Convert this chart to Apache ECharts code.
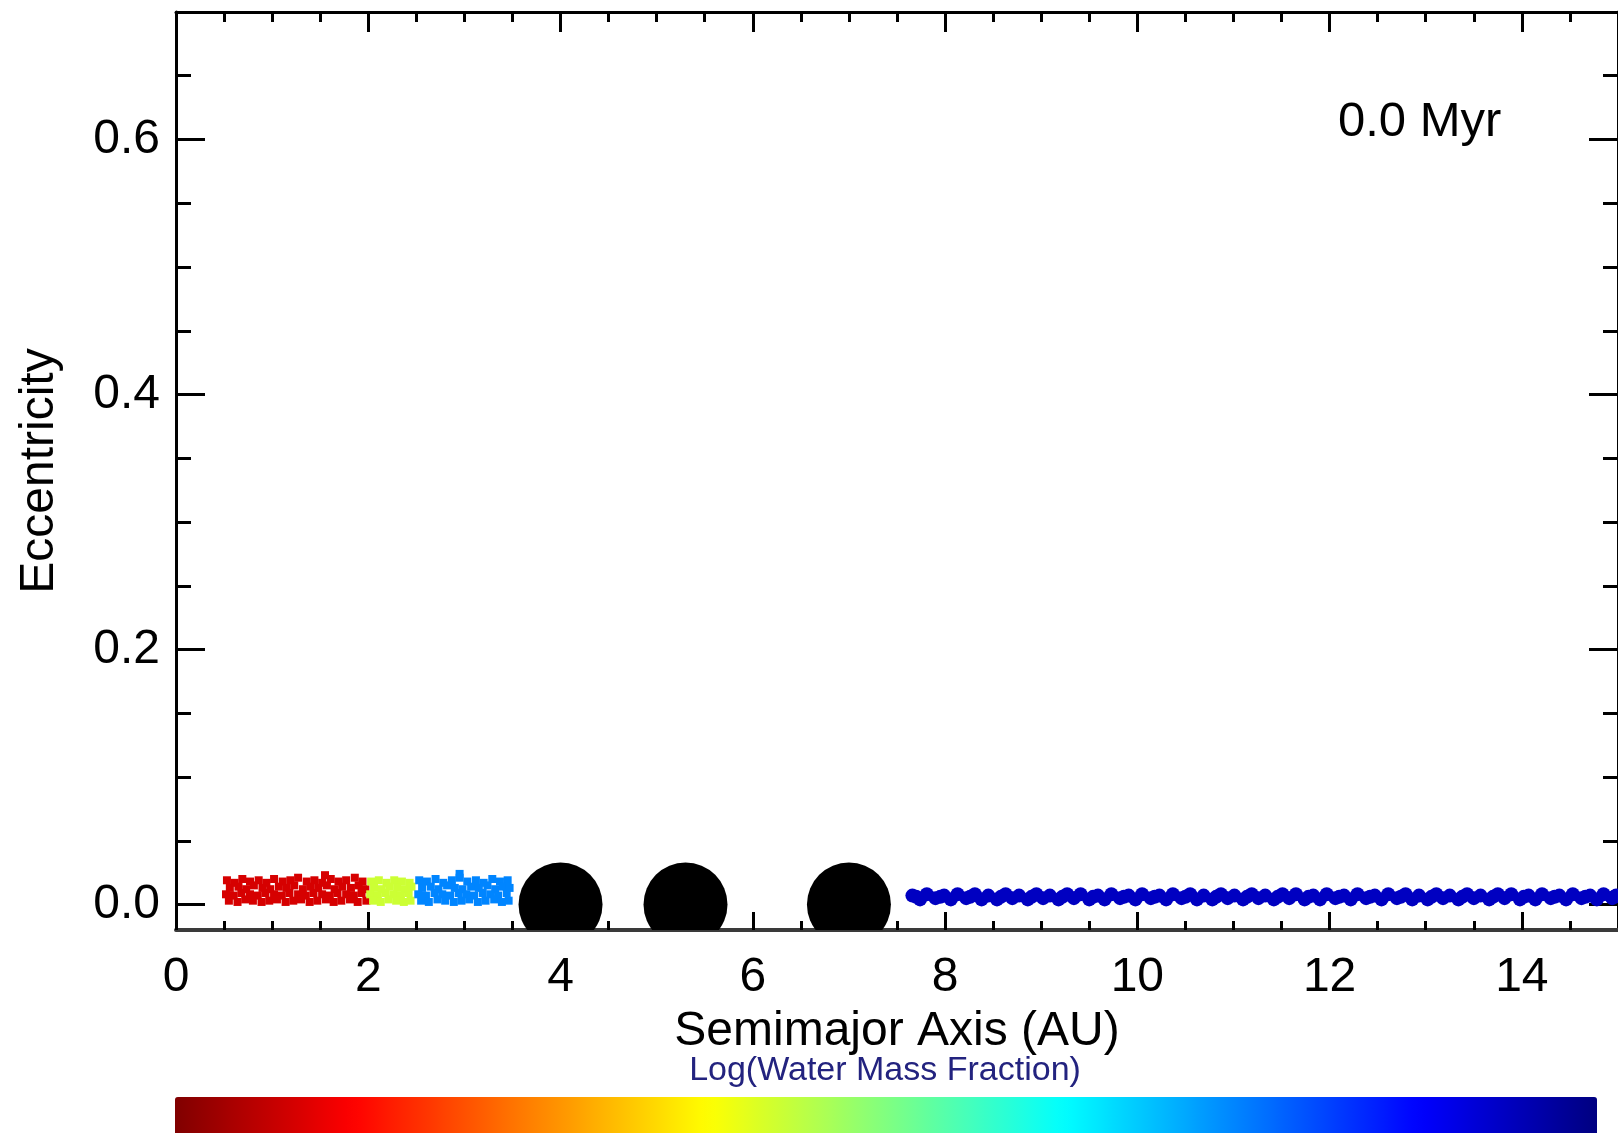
<!DOCTYPE html>
<html>
<head>
<meta charset="utf-8">
<script src="https://cdn.jsdelivr.net/npm/echarts@6/dist/echarts.min.js"></script>
<style>
html,body{margin:0;padding:0;background:#fff;}
#chart{width:1618px;height:1133px;}
</style>
</head>
<body>
<div id="chart"></div>
<script>
// ---- Data (semimajor axis AU, eccentricity) ----
const redZone = [
 [0.53,0.019],[0.61,0.017],[0.69,0.020],[0.77,0.018],[0.86,0.019],[0.94,0.017],[1.02,0.020],[1.11,0.018],[1.19,0.019],[1.27,0.021],[1.36,0.018],[1.44,0.019],[1.52,0.017],[1.61,0.020],[1.69,0.018],[1.77,0.019],[1.86,0.021],[1.94,0.018],
 [0.56,0.013],[0.65,0.014],[0.73,0.012],[0.81,0.015],[0.90,0.013],[0.98,0.012],[1.07,0.014],[1.15,0.013],[1.23,0.015],[1.32,0.012],[1.40,0.014],[1.48,0.013],[1.57,0.015],[1.65,0.012],[1.73,0.014],[1.82,0.013],[1.90,0.015],[1.97,0.012],
 [0.52,0.008],[0.60,0.007],[0.68,0.009],[0.77,0.008],[0.85,0.007],[0.93,0.009],[1.02,0.008],[1.10,0.007],[1.18,0.009],[1.27,0.008],[1.35,0.007],[1.43,0.009],[1.52,0.008],[1.60,0.007],[1.68,0.009],[1.77,0.008],[1.85,0.007],[1.93,0.009],
 [0.55,0.003],[0.64,0.002],[0.72,0.004],[0.80,0.003],[0.89,0.002],[0.97,0.003],[1.05,0.004],[1.14,0.002],[1.22,0.003],[1.30,0.004],[1.39,0.002],[1.47,0.003],[1.56,0.004],[1.64,0.002],[1.72,0.003],[1.81,0.004],[1.89,0.002],[1.98,0.003],
 [1.55,0.023]
];
const yellowZone = [
 [2.03,0.018],[2.11,0.019],[2.19,0.017],[2.27,0.019],[2.35,0.018],[2.43,0.017],
 [2.06,0.013],[2.14,0.012],[2.22,0.014],[2.30,0.013],[2.38,0.012],[2.45,0.014],
 [2.02,0.008],[2.10,0.007],[2.18,0.009],[2.26,0.008],[2.34,0.007],[2.42,0.009],
 [2.05,0.003],[2.13,0.002],[2.21,0.004],[2.29,0.003],[2.37,0.002],[2.44,0.003]
];
const lightBlueZone = [
 [2.53,0.019],[2.61,0.018],[2.70,0.020],[2.78,0.017],[2.87,0.019],[2.95,0.021],[3.03,0.018],[3.12,0.019],[3.20,0.017],[3.29,0.020],[3.37,0.018],[3.45,0.019],
 [2.56,0.013],[2.65,0.014],[2.73,0.012],[2.82,0.015],[2.90,0.013],[2.98,0.012],[3.07,0.014],[3.15,0.013],[3.24,0.015],[3.32,0.012],[3.40,0.014],[3.47,0.013],
 [2.52,0.008],[2.60,0.007],[2.69,0.009],[2.77,0.008],[2.85,0.007],[2.94,0.009],[3.02,0.008],[3.10,0.007],[3.19,0.009],[3.27,0.008],[3.35,0.007],[3.44,0.009],
 [2.55,0.003],[2.63,0.002],[2.72,0.004],[2.80,0.003],[2.89,0.002],[2.97,0.003],[3.05,0.004],[3.14,0.002],[3.22,0.003],[3.31,0.004],[3.39,0.002],[3.46,0.003],
 [2.95,0.024]
];
const outerZone = [
 [7.66,0.007],[7.81,0.008],[7.99,0.007],[8.13,0.008],[8.31,0.008],[8.45,0.007],[8.63,0.008],[8.77,0.007],[8.95,0.008],[9.09,0.007],[9.27,0.008],[9.41,0.008],[9.59,0.007],[9.73,0.008],[9.91,0.007],[10.05,0.008],[10.23,0.007],[10.37,0.008],[10.55,0.008],[10.69,0.007],[10.87,0.008],[11.01,0.007],[11.19,0.008],[11.33,0.007],[11.51,0.008],[11.65,0.008],[11.83,0.007],[11.97,0.008],[12.15,0.007],[12.29,0.008],[12.47,0.007],[12.61,0.008],[12.79,0.008],[12.93,0.007],[13.11,0.008],[13.25,0.007],[13.43,0.008],[13.57,0.007],[13.75,0.008],[13.89,0.008],[14.07,0.007],[14.21,0.008],[14.39,0.007],[14.53,0.008],[14.71,0.007],[14.85,0.008],[14.98,0.007],
 [7.74,0.004],[7.90,0.005],[8.06,0.004],[8.22,0.005],[8.38,0.004],[8.54,0.004],[8.70,0.005],[8.86,0.004],[9.02,0.005],[9.18,0.004],[9.34,0.005],[9.50,0.004],[9.66,0.004],[9.82,0.005],[9.98,0.004],[10.14,0.005],[10.30,0.004],[10.46,0.005],[10.62,0.004],[10.78,0.004],[10.94,0.005],[11.10,0.004],[11.26,0.005],[11.42,0.004],[11.58,0.005],[11.74,0.004],[11.90,0.004],[12.06,0.005],[12.22,0.004],[12.38,0.005],[12.54,0.004],[12.70,0.005],[12.86,0.004],[13.02,0.004],[13.18,0.005],[13.34,0.004],[13.50,0.005],[13.66,0.004],[13.82,0.005],[13.98,0.004],[14.14,0.004],[14.30,0.005],[14.46,0.004],[14.62,0.005],[14.78,0.004],[14.94,0.005],
 [7.70,0.006],[7.95,0.006],[8.26,0.006],[8.58,0.006],[8.90,0.006],[9.22,0.006],[9.54,0.006],[9.86,0.006],[10.18,0.006],[10.50,0.006],[10.82,0.006],[11.14,0.006],[11.46,0.006],[11.78,0.006],[12.10,0.006],[12.42,0.006],[12.74,0.006],[13.06,0.006],[13.38,0.006],[13.70,0.006],[14.02,0.006],[14.34,0.006],[14.66,0.006],[14.96,0.006]
];
// log10 water mass fraction per zone
const waterRed = -4.6;
const waterYellow = -3.0;
const waterLightBlue = -1.5;
const waterOuter = -0.6;
// giant planets
const planets = [[4.0,0.0],[5.3,0.0],[7.0,0.0]];
// ticks
const xMajor = [0,2,4,6,8,10,12,14];
const xMinor = [0.5,1,1.5,2.5,3,3.5,4.5,5,5.5,6.5,7,7.5,8.5,9,9.5,10.5,11,11.5,12.5,13,13.5,14.5];
const yMajor = [0,0.2,0.4,0.6];
const yMinor = [0.05,0.1,0.15,0.25,0.3,0.35,0.45,0.5,0.55,0.65];
const timeLabel = '0.0 Myr';

const withW = (arr, w) => arr.map(p => [p[0], p[1], w]);
const innerData = [].concat(withW(redZone, waterRed), withW(yellowZone, waterYellow), withW(lightBlueZone, waterLightBlue));
const outerData = withW(outerZone, waterOuter);

const FONT = 'Liberation Sans';
const X0 = 0, X1 = 15, Y0 = -0.02, Y1 = 0.7;

function xAx(pos, ticks, len, showLine, extra) {
  return Object.assign({
    type: 'value', position: pos, min: X0, max: X1,
    splitLine: {show: false},
    axisLine: {show: showLine, onZero: false, lineStyle: {color: '#000', width: 3}},
    axisTick: {show: true, inside: true, length: len, customValues: ticks, lineStyle: {color: '#000', width: 3}},
    axisLabel: {show: false}
  }, extra || {});
}
function yAx(pos, ticks, len, showLine, extra) {
  return Object.assign({
    type: 'value', position: pos, min: Y0, max: Y1,
    splitLine: {show: false},
    axisLine: {show: showLine, onZero: false, lineStyle: {color: '#000', width: 3}},
    axisTick: {show: true, inside: true, length: len, customValues: ticks, lineStyle: {color: '#000', width: 3}},
    axisLabel: {show: false}
  }, extra || {});
}

const chart = echarts.init(document.getElementById('chart'), null, {renderer: 'canvas'});
chart.setOption({
  animation: false,
  backgroundColor: '#fff',
  grid: {left: 176, top: 12, width: 1451, height: 918, containLabel: false},
  xAxis: [
    xAx('bottom', xMajor, 18, true, {
      axisLine: {show: true, onZero: false, lineStyle: {color: '#3a3a3a', width: 4}},
      axisLabel: {show: true, customValues: xMajor, fontSize: 48, fontFamily: FONT, color: '#000', margin: 24},
      name: 'Semimajor Axis (AU)', nameLocation: 'middle', nameGap: 78,
      nameTextStyle: {fontSize: 48, fontFamily: FONT, color: '#000'}
    }),
    xAx('bottom', xMinor, 9, false),
    xAx('top', xMajor, 20, true),
    xAx('top', xMinor, 10, false)
  ],
  yAxis: [
    yAx('left', yMajor, 29, true, {
      axisLabel: {show: true, customValues: yMajor, fontSize: 48, fontFamily: FONT, color: '#000', margin: 16,
        formatter: v => v.toFixed(1)},
      name: 'Eccentricity', nameLocation: 'middle', nameGap: 112, nameRotate: 90,
      nameTextStyle: {fontSize: 48, fontFamily: FONT, color: '#000'}
    }),
    yAx('left', yMinor, 15, false),
    yAx('right', yMajor, 29, true),
    yAx('right', yMinor, 15, false)
  ],
  visualMap: {
    type: 'continuous', min: -5, max: -0.3, dimension: 2, seriesIndex: [0, 1],
    orient: 'horizontal', left: 175, top: 1097, itemWidth: 40, itemHeight: 1422,
    calculable: false, showLabel: false, text: null, padding: 0, hoverLink: false,
    inRange: {color: ['#800000','#ff0000','#ff8000','#ffff00','#80ff80','#00ffff','#0080ff','#0000ff','#000080']}
  },
  series: [
    {type: 'scatter', name: 'inner', data: innerData, symbol: 'rect', symbolSize: 8, clip: true,
      itemStyle: {opacity: 1}, xAxisIndex: 0, yAxisIndex: 0, z: 4},
    {type: 'scatter', name: 'outer', data: outerData, symbol: 'circle', symbolSize: 14, clip: true,
      itemStyle: {opacity: 1}, xAxisIndex: 0, yAxisIndex: 0, z: 4},
    {type: 'custom', name: 'planets', data: planets, clip: true, xAxisIndex: 0, yAxisIndex: 0, z: 5,
      renderItem: function (params, api) {
        const c = api.coord([api.value(0), api.value(1)]);
        return {type: 'circle', shape: {cx: c[0], cy: c[1], r: 42}, style: {fill: '#000'}};
      }}
  ],
  graphic: [
    {type: 'text', style: {text: timeLabel, x: 1338, y: 122, fontSize: 49, fontFamily: FONT, fill: '#000', align: 'left', verticalAlign: 'middle'}},
    {type: 'text', style: {text: 'Log(Water Mass Fraction)', x: 885, y: 1071, fontSize: 34, fontFamily: FONT, fill: '#23237f', align: 'center', verticalAlign: 'middle'}}
  ]
});
</script>
</body>
</html>
